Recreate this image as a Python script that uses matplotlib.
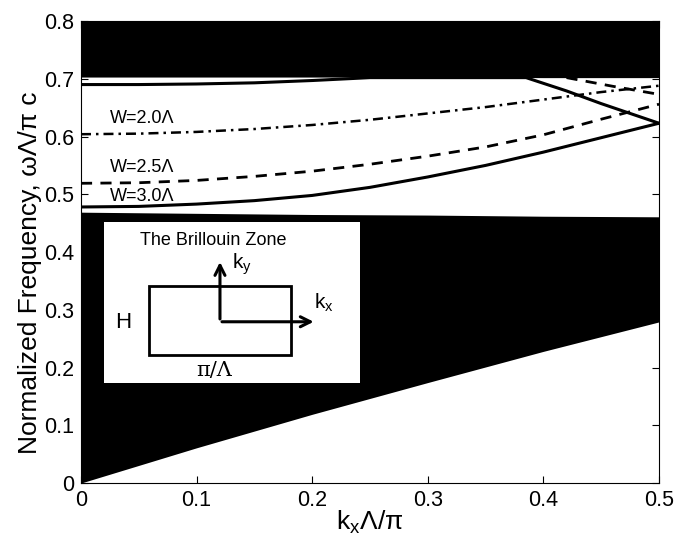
import matplotlib.pyplot as plt
import numpy as np

plt.rcParams['font.family'] = ['Liberation Sans', 'DejaVu Sans']

# band edges
kx_edge = [0.0, 0.1, 0.2, 0.3, 0.4, 0.5]
upper_band = [0.703, 0.703, 0.703, 0.703, 0.702, 0.702]
lower_band = [0.469, 0.467, 0.465, 0.464, 0.462, 0.461]
light_line = [0.0, 0.061, 0.119, 0.174, 0.228, 0.279]

# guided modes
k_w30 = [0.0, 0.05, 0.1, 0.15, 0.2, 0.25, 0.3, 0.35, 0.4, 0.45, 0.5]
w_w30 = [0.478, 0.479, 0.483, 0.489, 0.498, 0.512, 0.530, 0.550, 0.573, 0.598, 0.623]
k_w25 = [0.0, 0.05, 0.1, 0.15, 0.2, 0.25, 0.3, 0.35, 0.4, 0.45, 0.5]
w_w25 = [0.519, 0.520, 0.524, 0.531, 0.540, 0.552, 0.566, 0.582, 0.603, 0.630, 0.656]
k_w20 = [0.0, 0.05, 0.1, 0.15, 0.2, 0.25, 0.3, 0.35, 0.4, 0.45, 0.5]
w_w20 = [0.604, 0.605, 0.608, 0.613, 0.620, 0.629, 0.640, 0.651, 0.664, 0.677, 0.688]
k_top = [0.0, 0.05, 0.1, 0.15, 0.2, 0.25, 0.385, 0.42, 0.45, 0.5]
w_top = [0.690, 0.690, 0.691, 0.693, 0.697, 0.702, 0.702, 0.679, 0.657, 0.623]
k_top2 = [0.42, 0.46, 0.5]
w_top2 = [0.702, 0.687, 0.673]

fig = plt.figure(figsize=(6.91, 5.38), dpi=100)
ax = fig.add_axes([0.1172, 0.1022, 0.8365, 0.8587])

# 光子晶体带区（黑色）
ax.fill_between(kx_edge, upper_band, 0.8, color='black', lw=0)
ax.fill_between(kx_edge, light_line, lower_band, color='black', lw=0)

ax.plot(k_w30, w_w30, color='black', lw=2.2, ls='-')
ax.plot(k_w25, w_w25, color='black', lw=2, ls=(0, (4, 3)))
ax.plot(k_w20, w_w20, color='black', lw=1.8, ls=(0, (4, 2, 1, 2)))
ax.plot(k_top, w_top, color='black', lw=2.2, ls='-')
ax.plot(k_top2, w_top2, color='black', lw=2, ls=(0, (4, 3)))

ax.text(0.025, 0.632, 'W=2.0Λ', fontsize=13, va='center')
ax.text(0.025, 0.547, 'W=2.5Λ', fontsize=13, va='center')
ax.text(0.025, 0.496, 'W=3.0Λ', fontsize=13, va='center')

ax.set_xlim(0, 0.5)
ax.set_ylim(0, 0.8)
ax.set_xticks([0, 0.1, 0.2, 0.3, 0.4, 0.5])
ax.set_xticklabels(['0', '0.1', '0.2', '0.3', '0.4', '0.5'])
ax.set_yticks([0, 0.1, 0.2, 0.3, 0.4, 0.5, 0.6, 0.7, 0.8])
ax.set_yticklabels(['0', '0.1', '0.2', '0.3', '0.4', '0.5', '0.6', '0.7', '0.8'])
ax.tick_params(direction='in', top=True, right=True, labelsize=15.5, length=5, pad=5)
ax.set_xlabel('k$_\\mathregular{x}$Λ/π', fontsize=19, labelpad=-2)
ax.set_ylabel('Normalized Frequency, ωΛ/π c', fontsize=19)
ax.yaxis.set_label_coords(-0.068, 0.455)

# 插图：布里渊区
ins = fig.add_axes([0.1505, 0.288, 0.3705, 0.299])
ins.set_xlim(0, 1)
ins.set_ylim(0, 1)
ins.set_xticks([])
ins.set_yticks([])
for s in ins.spines.values():
    s.set_visible(False)
ins.add_patch(plt.Rectangle((0.176, 0.175), 0.554, 0.431, fill=False, lw=2, ec='black'))
ins.annotate('', xy=(0.453, 0.77), xytext=(0.453, 0.381),
             arrowprops=dict(arrowstyle='->', lw=2.2, color='black', mutation_scale=18))
ins.annotate('', xy=(0.83, 0.381), xytext=(0.45, 0.381),
             arrowprops=dict(arrowstyle='->', lw=2.2, color='black', mutation_scale=18))
ins.text(0.426, 0.885, 'The Brillouin Zone', fontsize=13, ha='center', va='center')
ins.text(0.5, 0.74, 'k$_\\mathregular{y}$', fontsize=15, ha='left', va='center')
ins.text(0.82, 0.50, 'k$_\\mathregular{x}$', fontsize=15, ha='left', va='center')
ins.text(0.074, 0.375, 'H', fontsize=16, ha='center', va='center')
ins.text(0.43, 0.075, 'π/Λ', fontsize=15, ha='center', va='center', family='DejaVu Serif')

fig.savefig('out.png', dpi=100)
